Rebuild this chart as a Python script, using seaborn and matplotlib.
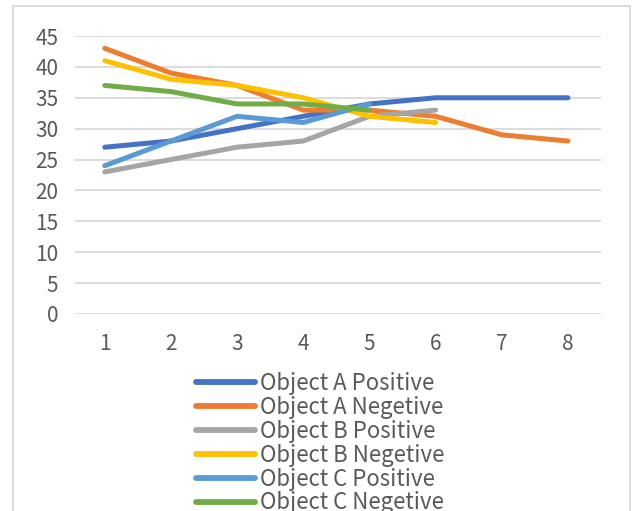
import matplotlib
matplotlib.use("Agg")
import matplotlib.pyplot as plt
from matplotlib.patches import Rectangle
import numpy as np
import pandas as pd
import seaborn as sns

# Series values per step (series shorter than 8 steps stop early)
steps = [1, 2, 3, 4, 5, 6, 7, 8]
a_positive = [27, 28, 30, 32, 34, 35, 35, 35]
a_negative = [43, 39, 37, 33, 33, 32, 29, 28]
b_positive = [23, 25, 27, 28, 32, 33]
b_negative = [41, 38, 37, 35, 32, 31]
c_positive = [24, 28, 32, 31, 34]
c_negative = [37, 36, 34, 34, 33]

series_names = ["Object A Positive", "Object A Negetive", "Object B Positive",
                "Object B Negetive", "Object C Positive", "Object C Negetive"]
series_values = [a_positive, a_negative, b_positive, b_negative, c_positive, c_negative]
colors = ["#4472C4", "#ED7D31", "#A5A5A5", "#FFC000", "#5B9BD5", "#70AD47"]
y_ticks = [0, 5, 10, 15, 20, 25, 30, 35, 40, 45]

rows = []
for name, vals in zip(series_names, series_values):
    for s, v in zip(steps, vals):
        rows.append({"step": s, "value": v, "series": name})
df = pd.DataFrame(rows)

sns.set_theme(style="white")
plt.rcParams["font.family"] = ["Noto Sans CJK SC", "DejaVu Sans"]
plt.rcParams["font.weight"] = "light"

text_color = "#595959"
grid_color = "#d9d9d9"

fig = plt.figure(figsize=(6.32, 5.11), dpi=100)
ax = fig.add_axes([75 / 632, 1 - 314 / 511, (601 - 75) / 632, (314 - 36) / 511])

# chart frame
fig.patches.append(Rectangle((13 / 632, -0.05), (630 - 13) / 632, 1 - 6 / 511 + 0.05,
                             transform=fig.transFigure, fill=False,
                             edgecolor=grid_color, linewidth=1.3, zorder=0))

sns.lineplot(data=df, x="step", y="value", hue="series", hue_order=series_names,
             palette=colors, linewidth=3.6, ax=ax, legend=True,
             solid_capstyle="round", solid_joinstyle="round")

ax.set_xlim(0.55, 8.5)
ax.set_ylim(0, 45)
ax.set_xticks(steps)
ax.set_yticks(y_ticks)
ax.set_xlabel("")
ax.set_ylabel("")
for sp in ax.spines.values():
    sp.set_visible(False)
ax.yaxis.grid(True, color=grid_color, linewidth=1.3)
ax.set_axisbelow(True)
ax.tick_params(axis="both", length=0, labelsize=15, colors=text_color)
ax.tick_params(axis="x", pad=14)
ax.tick_params(axis="y", pad=12)

handles, labels = ax.get_legend_handles_labels()
ax.get_legend().remove()
leg = fig.legend(handles, labels, loc="upper left", bbox_to_anchor=(196 / 632, 1 - 372 / 511),
                 frameon=False, fontsize=16, handlelength=2.65, handletextpad=0.22,
                 labelspacing=0.04, borderaxespad=0, borderpad=0)
for t in leg.get_texts():
    t.set_color(text_color)
for h in leg.get_lines():
    h.set_linewidth(4.2)
    h.set_solid_capstyle("round")

fig.savefig("out.png", dpi=100)
